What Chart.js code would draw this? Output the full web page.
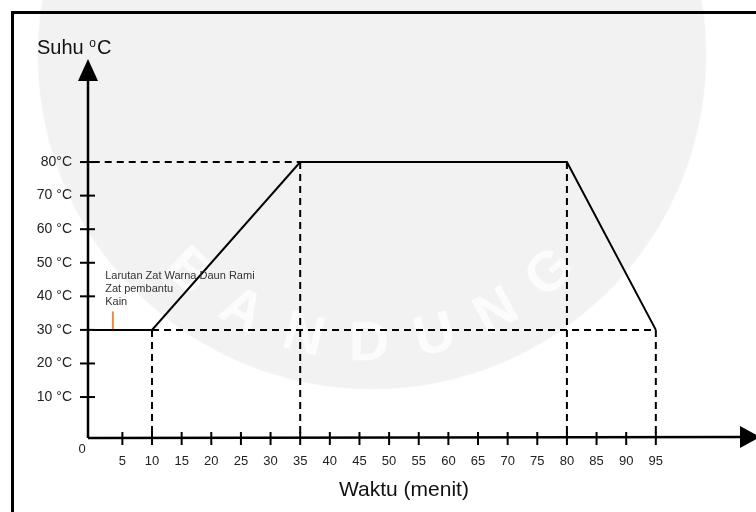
<!DOCTYPE html>
<html>
<head>
<meta charset="utf-8">
<script src="https://cdn.jsdelivr.net/npm/chart.js@4.4.0/dist/chart.umd.min.js"></script>
<style>
    html, body {
        margin: 0;
        padding: 0;
    }
    body {
        width: 756px;
        height: 512px;
        overflow: hidden;
        position: relative;
        background: radial-gradient(circle 335px at 372px 55px, #f2f2f2 99.5%, #ffffff 100%);
    }
    #frame {
        position: absolute;
        left: 11px;
        top: 11px;
        width: 800px;
        height: 600px;
        border-left: 3px solid #000;
        border-top: 3px solid #000;
    }
    #wrap {
        position: absolute;
        left: 0;
        top: 0;
        width: 756px;
        height: 512px;
    }
</style>
</head>
<body>
<div id="frame"></div>
<div id="wrap"><canvas id="chart" width="756" height="512"></canvas></div>
<script>
// Temperature profile (time in minutes, temperature in °C)
const timeMinutes = [0, 10, 35, 80, 95];
const tempC = [30, 30, 80, 80, 30];

// Dashed helper lines
const guideH = [
    { from: 0, to: 35, temp: 80 },
    { from: 10, to: 95, temp: 30 },
];
const guideVTimes = [10, 35, 80, 95];
const guideVTemps = [30, 80, 80, 30];

// Orange marker where the dye solution is added
const markerTime = 3.4;
const markerTemps = [30, 35.5];

// Note text
const noteLines = ['Larutan Zat Warna Daun Rami', 'Zat pembantu', 'Kain'];
const noteTime = 2.1;
const noteTemp = 46;

// Tick labels
const xTicks = [5, 10, 15, 20, 25, 30, 35, 40, 45, 50, 55, 60, 65, 70, 75, 80, 85, 90, 95];
const yTicks = [10, 20, 30, 40, 50, 60, 70, 80];

const X_MIN = -0.8, X_MAX = 111.9;
const Y_MIN = -2.2, Y_MAX = 110.4;
const FONT = '"Liberation Sans", Arial, sans-serif';

// build guide dataset, segments split by null
const guidePoints = [];
guideH.forEach(g => {
    guidePoints.push({ x: g.from, y: g.temp }, { x: g.to, y: g.temp }, { x: g.to, y: null });
});
guideVTimes.forEach((t, i) => {
    guidePoints.push({ x: t, y: guideVTemps[i] }, { x: t, y: Y_MIN }, { x: t, y: null });
});

const axesPlugin = {
    id: 'axesPlugin',
    beforeDraw(chart) {
        // faint watermark letters
        const ctx = chart.ctx;
        const letters = 'BANDUNG'.split('');
        const cx = 370, cy = 80, r = 265;
        ctx.save();
        ctx.fillStyle = '#fcfcfc';
        ctx.font = 'bold 56px ' + FONT;
        ctx.textAlign = 'center';
        ctx.textBaseline = 'middle';
        letters.forEach((ch, i) => {
            const a = (133.4 - i * 14.4) * Math.PI / 180;
            ctx.save();
            ctx.translate(cx + r * Math.cos(a), cy + r * Math.sin(a));
            ctx.rotate(a - Math.PI / 2);
            ctx.fillText(ch, 0, 0);
            ctx.restore();
        });
        ctx.restore();
    },
    afterDatasetsDraw(chart) {
        const ctx = chart.ctx;
        const { left, right, top, bottom } = chart.chartArea;
        const xs = chart.scales.x;
        const ys = chart.scales.y;
        ctx.save();
        ctx.strokeStyle = '#000';
        ctx.fillStyle = '#000';
        ctx.lineWidth = 2.5;

        // y axis + arrow
        ctx.beginPath();
        ctx.moveTo(left, bottom);
        ctx.lineTo(left, top + 18);
        ctx.stroke();
        ctx.beginPath();
        ctx.moveTo(left, top - 1);
        ctx.lineTo(left - 10, top + 21);
        ctx.lineTo(left + 10, top + 21);
        ctx.closePath();
        ctx.fill();

        // x axis + arrow
        ctx.beginPath();
        ctx.moveTo(left, bottom);
        ctx.lineTo(right - 14, bottom - 1);
        ctx.stroke();
        ctx.beginPath();
        ctx.moveTo(right + 4, bottom - 1);
        ctx.lineTo(right - 16, bottom - 12);
        ctx.lineTo(right - 16, bottom + 10);
        ctx.closePath();
        ctx.fill();

        // crossing tick marks
        ctx.lineWidth = 2;
        yTicks.forEach(v => {
            const y = ys.getPixelForValue(v);
            ctx.beginPath();
            ctx.moveTo(left - 8, y);
            ctx.lineTo(left + 7, y);
            ctx.stroke();
        });
        xTicks.forEach(v => {
            const x = xs.getPixelForValue(v);
            ctx.beginPath();
            ctx.moveTo(x, bottom - 6);
            ctx.lineTo(x, bottom + 7);
            ctx.stroke();
        });

        // origin label
        ctx.fillStyle = '#222';
        ctx.font = '13px ' + FONT;
        ctx.textAlign = 'center';
        ctx.textBaseline = 'middle';
        ctx.fillText('0', left - 6, bottom + 11);

        // axis titles
        ctx.fillStyle = '#111';
        ctx.textAlign = 'left';
        ctx.font = '20px ' + FONT;
        const tx = left - 51, ty = top - 12;
        ctx.fillText('Suhu ', tx, ty);
        const w1 = ctx.measureText('Suhu ').width;
        ctx.font = '12px ' + FONT;
        ctx.fillText('o', tx + w1, ty - 4);
        const w2 = ctx.measureText('o').width;
        ctx.font = '20px ' + FONT;
        ctx.fillText('C', tx + w1 + w2 + 1, ty);

        ctx.textAlign = 'center';
        ctx.font = '21px ' + FONT;
        ctx.fillText('Waktu (menit)', xs.getPixelForValue(52.5), bottom + 52);

        // note
        ctx.fillStyle = '#333';
        ctx.textAlign = 'left';
        ctx.font = '11px ' + FONT;
        const nx = xs.getPixelForValue(noteTime);
        const ny = ys.getPixelForValue(noteTemp);
        noteLines.forEach((t, i) => ctx.fillText(t, nx, ny + i * 13));
        ctx.restore();
    }
};

const ctx = document.getElementById('chart').getContext('2d');
new Chart(ctx, {
    type: 'scatter',
    data: {
        datasets: [
            {
                label: 'guides',
                data: guidePoints,
                showLine: true,
                spanGaps: false,
                borderColor: '#000',
                borderWidth: 2,
                borderDash: [7, 5],
                pointRadius: 0,
            },
            {
                label: 'Suhu',
                data: timeMinutes.map((t, i) => ({ x: t, y: tempC[i] })),
                showLine: true,
                borderColor: '#000',
                borderWidth: 2,
                pointRadius: 0,
                tension: 0,
            },
            {
                label: 'marker',
                data: markerTemps.map(v => ({ x: markerTime, y: v })),
                showLine: true,
                borderColor: '#f08a40',
                borderWidth: 2,
                pointRadius: 0,
            },
        ],
    },
    options: {
        responsive: false,
        animation: false,
        events: [],
        layout: { padding: { top: 60, right: 0, left: 0, bottom: 0 } },
        plugins: {
            legend: { display: false },
            tooltip: { enabled: false },
        },
        scales: {
            x: {
                type: 'linear',
                min: X_MIN,
                max: X_MAX,
                afterBuildTicks: s => { s.ticks = xTicks.map(v => ({ value: v })); },
                afterFit: s => { s.height = 74; },
                grid: { display: false },
                border: { display: false },
                ticks: {
                    padding: 8,
                    maxRotation: 0,
                    autoSkip: false,
                    color: '#222',
                    font: { family: FONT, size: 13 },
                },
            },
            y: {
                type: 'linear',
                min: Y_MIN,
                max: Y_MAX,
                afterBuildTicks: s => { s.ticks = yTicks.map(v => ({ value: v })); },
                afterFit: s => { s.width = 88; },
                grid: { display: false },
                border: { display: false },
                ticks: {
                    padding: 8,
                    autoSkip: false,
                    color: '#222',
                    font: { family: FONT, size: 14 },
                    callback: v => v === 80 ? '80°C' : v + ' °C',
                },
            },
        },
    },
    plugins: [axesPlugin],
});
</script>
</body>
</html>
